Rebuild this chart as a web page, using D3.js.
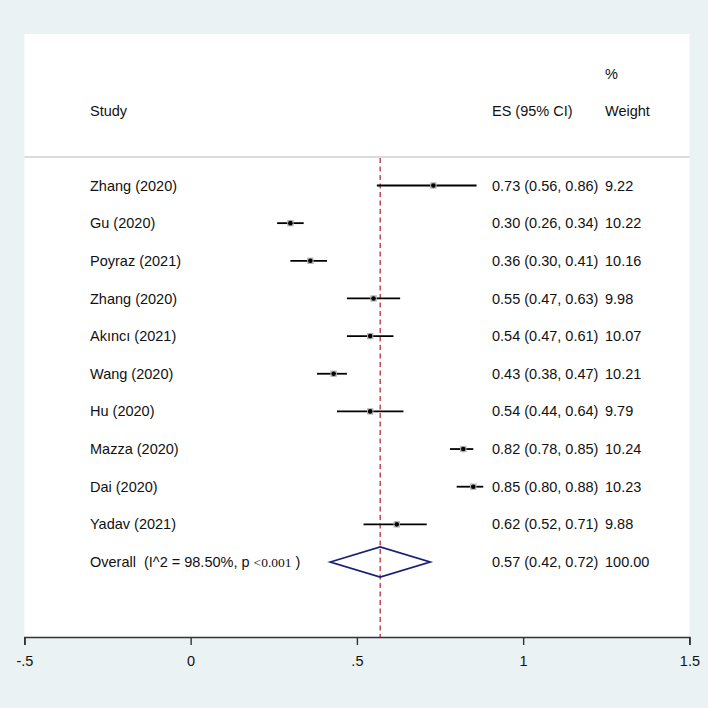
<!DOCTYPE html>
<html>
<head>
<meta charset="utf-8">
<script src="https://cdn.jsdelivr.net/npm/d3@7"></script>
<style>
html,body{margin:0;padding:0;background:#eaf2f3;}
svg{display:block;}
text{font-family:"Liberation Sans",Arial,sans-serif;font-size:14.5px;fill:#111;}
</style>
</head>
<body>
<script>
const studies = ["Zhang (2020)","Gu (2020)","Poyraz (2021)","Zhang (2020)","Akıncı (2021)","Wang (2020)","Hu (2020)","Mazza (2020)","Dai (2020)","Yadav (2021)"];
const es = [0.73,0.30,0.36,0.55,0.54,0.43,0.54,0.82,0.85,0.62];
const lo = [0.56,0.26,0.30,0.47,0.47,0.38,0.44,0.78,0.80,0.52];
const hi = [0.86,0.34,0.41,0.63,0.61,0.47,0.64,0.85,0.88,0.71];
const weights = ["9.22","10.22","10.16","9.98","10.07","10.21","9.79","10.24","10.23","9.88"];
const overall = {es:0.57, lo:0.42, hi:0.72, weight:"100.00"};
const overallLabel = "Overall  (I^2 = 98.50%, p ";
const overallP = "<0.001";
const xTicks = [-0.5,0,0.5,1,1.5];
const xTickLabels = ["-.5","0",".5","1","1.5"];

const W=708,H=708;
const svg=d3.select("body").append("svg").attr("width",W).attr("height",H);
svg.append("rect").attr("width",W).attr("height",H).attr("fill","#eaf2f3");
const L=24.4,R=689.4,T=34,B=637;
svg.append("rect").attr("x",L).attr("y",T).attr("width",R-L).attr("height",B-T).attr("fill","#ffffff");

const x=d3.scaleLinear().domain([-0.5,1.5]).range([L,R]);
const rows=d3.range(studies.length+1);
const y=d3.scalePoint().domain(rows).range([185.5,562]);

// headers
svg.append("text").attr("x",90).attr("y",111).attr("dy","0.35em").text("Study");
svg.append("text").attr("x",492).attr("y",111).attr("dy","0.35em").text("ES (95% CI)");
svg.append("text").attr("x",605).attr("y",111).attr("dy","0.35em").text("Weight");
svg.append("text").attr("x",605).attr("y",73.5).attr("dy","0.35em").text("%");

// separator
svg.append("line").attr("x1",L).attr("x2",R).attr("y1",157).attr("y2",157).attr("stroke","#b8b8b8").attr("stroke-width",1.2);

// overall dashed line
svg.append("line").attr("x1",x(overall.es)).attr("x2",x(overall.es)).attr("y1",158).attr("y2",B)
  .attr("stroke","#b3202a").attr("stroke-width",1.2).attr("stroke-dasharray","5,3.5");

// study rows
const g=svg.append("g");
studies.forEach((s,i)=>{
  const yy=y(i);
  g.append("line").attr("x1",x(lo[i])).attr("x2",x(hi[i])).attr("y1",yy).attr("y2",yy).attr("stroke","#000").attr("stroke-width",1.8);
  g.append("rect").attr("x",x(es[i])-3.2).attr("y",yy-3.2).attr("width",6.4).attr("height",6.4).attr("fill","#b5b5b5");
  g.append("circle").attr("cx",x(es[i])).attr("cy",yy).attr("r",2.3).attr("fill","#000");
  g.append("text").attr("x",90).attr("y",yy).attr("dy","0.35em").text(s);
  g.append("text").attr("x",492).attr("y",yy).attr("dy","0.35em").text(`${es[i].toFixed(2)} (${lo[i].toFixed(2)}, ${hi[i].toFixed(2)})`);
  g.append("text").attr("x",605).attr("y",yy).attr("dy","0.35em").text(weights[i]);
});

// overall
const yo=y(studies.length);
const dh=15;
svg.append("path").attr("d",`M${x(overall.lo)},${yo}L${x(overall.es)},${yo-dh}L${x(overall.hi)},${yo}L${x(overall.es)},${yo+dh}Z`)
  .attr("fill","none").attr("stroke","#1a1f78").attr("stroke-width",1.8);
const ot=svg.append("text").attr("x",90).attr("y",yo).attr("dy","0.35em").attr("xml:space","preserve");
ot.append("tspan").text(overallLabel);
ot.append("tspan").style("font-family","'Liberation Serif','Times New Roman',serif").style("font-size","13.5px").text(overallP);
ot.append("tspan").text(" )");
svg.append("text").attr("x",492).attr("y",yo).attr("dy","0.35em").text(`${overall.es.toFixed(2)} (${overall.lo.toFixed(2)}, ${overall.hi.toFixed(2)})`);
svg.append("text").attr("x",605).attr("y",yo).attr("dy","0.35em").text(overall.weight);

// axis
const axis=d3.axisBottom(x).tickValues(xTicks).tickFormat((d,i)=>xTickLabels[i]).tickSize(8).tickPadding(11);
const ag=svg.append("g").attr("transform",`translate(0,${B})`).call(axis);
ag.select(".domain").attr("stroke","#333").attr("stroke-width",1.6);
ag.selectAll(".tick line").attr("stroke","#333").attr("stroke-width",1.4);
ag.selectAll(".tick text").style("font-family","'Liberation Sans',Arial,sans-serif").style("font-size","14.5px").attr("fill","#111");
</script>
</body>
</html>
